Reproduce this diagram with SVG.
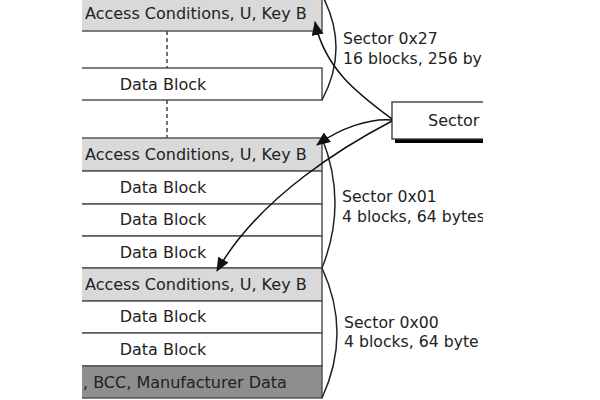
<svg xmlns="http://www.w3.org/2000/svg" width="600" height="400" viewBox="0 0 600 400">
<style>
.row{stroke:#555;stroke-width:1.5}
.data{fill:#fff}
.ac{fill:#d9d9d9}
.dark{fill:#8e8e8e}
.t{font-family:"DejaVu Sans",sans-serif;font-size:16px;fill:#222}
.s{font-family:"DejaVu Sans",sans-serif;font-size:15.7px;fill:#222}
.dash{stroke:#444;stroke-width:1.5;stroke-dasharray:4,3;fill:none}
.brace{stroke:#222;stroke-width:1.5;fill:none}
.arr{stroke:#111;stroke-width:1.5;fill:none;marker-end:url(#ah)}
</style>
<defs>
<clipPath id="view"><rect x="82" y="0" width="401" height="400"/></clipPath>
<marker id="ah" markerUnits="userSpaceOnUse" markerWidth="14" markerHeight="12" viewBox="0 0 14 12" refX="13" refY="6" orient="auto">
<path d="M0,0 L14,6 L0,12 Z" fill="#111"/>
</marker>
</defs>
<rect width="600" height="400" fill="#fff"/>
<g clip-path="url(#view)">
<g id="sector27">
<g id="ac27"><rect class="row ac" x="60" y="-3" width="262" height="34"/><text class="t" x="85" y="19">Access Conditions, U, Key B</text></g>
<g id="db27"><rect class="row data" x="60" y="68" width="262" height="32"/><text class="t" x="163" y="90" text-anchor="middle">Data Block</text></g>
<line class="dash" x1="167" y1="31" x2="167" y2="68"/>
<line class="dash" x1="167" y1="100" x2="167" y2="138"/>
</g>
<g id="sector01">
<g id="ac01"><rect class="row ac" x="60" y="138" width="262" height="33"/><text class="t" x="85" y="160">Access Conditions, U, Key B</text></g>
<g id="db01a"><rect class="row data" x="60" y="171" width="262" height="33"/><text class="t" x="163" y="193" text-anchor="middle">Data Block</text></g>
<g id="db01b"><rect class="row data" x="60" y="204" width="262" height="32"/><text class="t" x="163" y="225" text-anchor="middle">Data Block</text></g>
<g id="db01c"><rect class="row data" x="60" y="236" width="262" height="32"/><text class="t" x="163" y="258" text-anchor="middle">Data Block</text></g>
</g>
<g id="sector00">
<g id="ac00"><rect class="row ac" x="60" y="268" width="262" height="33"/><text class="t" x="85" y="290">Access Conditions, U, Key B</text></g>
<g id="db00a"><rect class="row data" x="60" y="301" width="262" height="32"/><text class="t" x="163" y="322" text-anchor="middle">Data Block</text></g>
<g id="db00b"><rect class="row data" x="60" y="333" width="262" height="33"/><text class="t" x="163" y="355" text-anchor="middle">Data Block</text></g>
<g id="mfr"><rect class="row dark" x="60" y="366" width="262" height="32"/><text class="t" x="83" y="388">, BCC, Manufacturer Data</text></g>
</g>
<g id="trailer">
<rect x="395" y="137" width="200" height="6" fill="#000"/>
<rect x="392" y="102" width="200" height="37" fill="#fff" stroke="#333" stroke-width="1.3"/>
<text class="t" x="428" y="126">Sector</text>
</g>
<g id="labels">
<text class="s" x="343" y="44">Sector 0x27</text>
<text class="s" x="343" y="64">16 blocks, 256 by</text>
<text class="s" x="342" y="202">Sector 0x01</text>
<text class="s" x="342" y="222">4 blocks, 64 bytes</text>
<text class="s" x="344" y="328">Sector 0x00</text>
<text class="s" x="344" y="347">4 blocks, 64 byte</text>
</g>
<g id="connectors">
<path class="brace" d="M322,-5 Q350,48 322,100"/>
<path class="brace" d="M322,138 Q348,203 322,268"/>
<path class="brace" d="M322,268 Q352,333 322,398"/>
<path class="arr" d="M392,119 C360,95 325,70 315,22"/>
<path class="arr" d="M392,120 C370,118 340,128 317,145"/>
<path class="arr" d="M392,121 C350,143 260,195 217,271"/>
</g>
</g>
</svg>
